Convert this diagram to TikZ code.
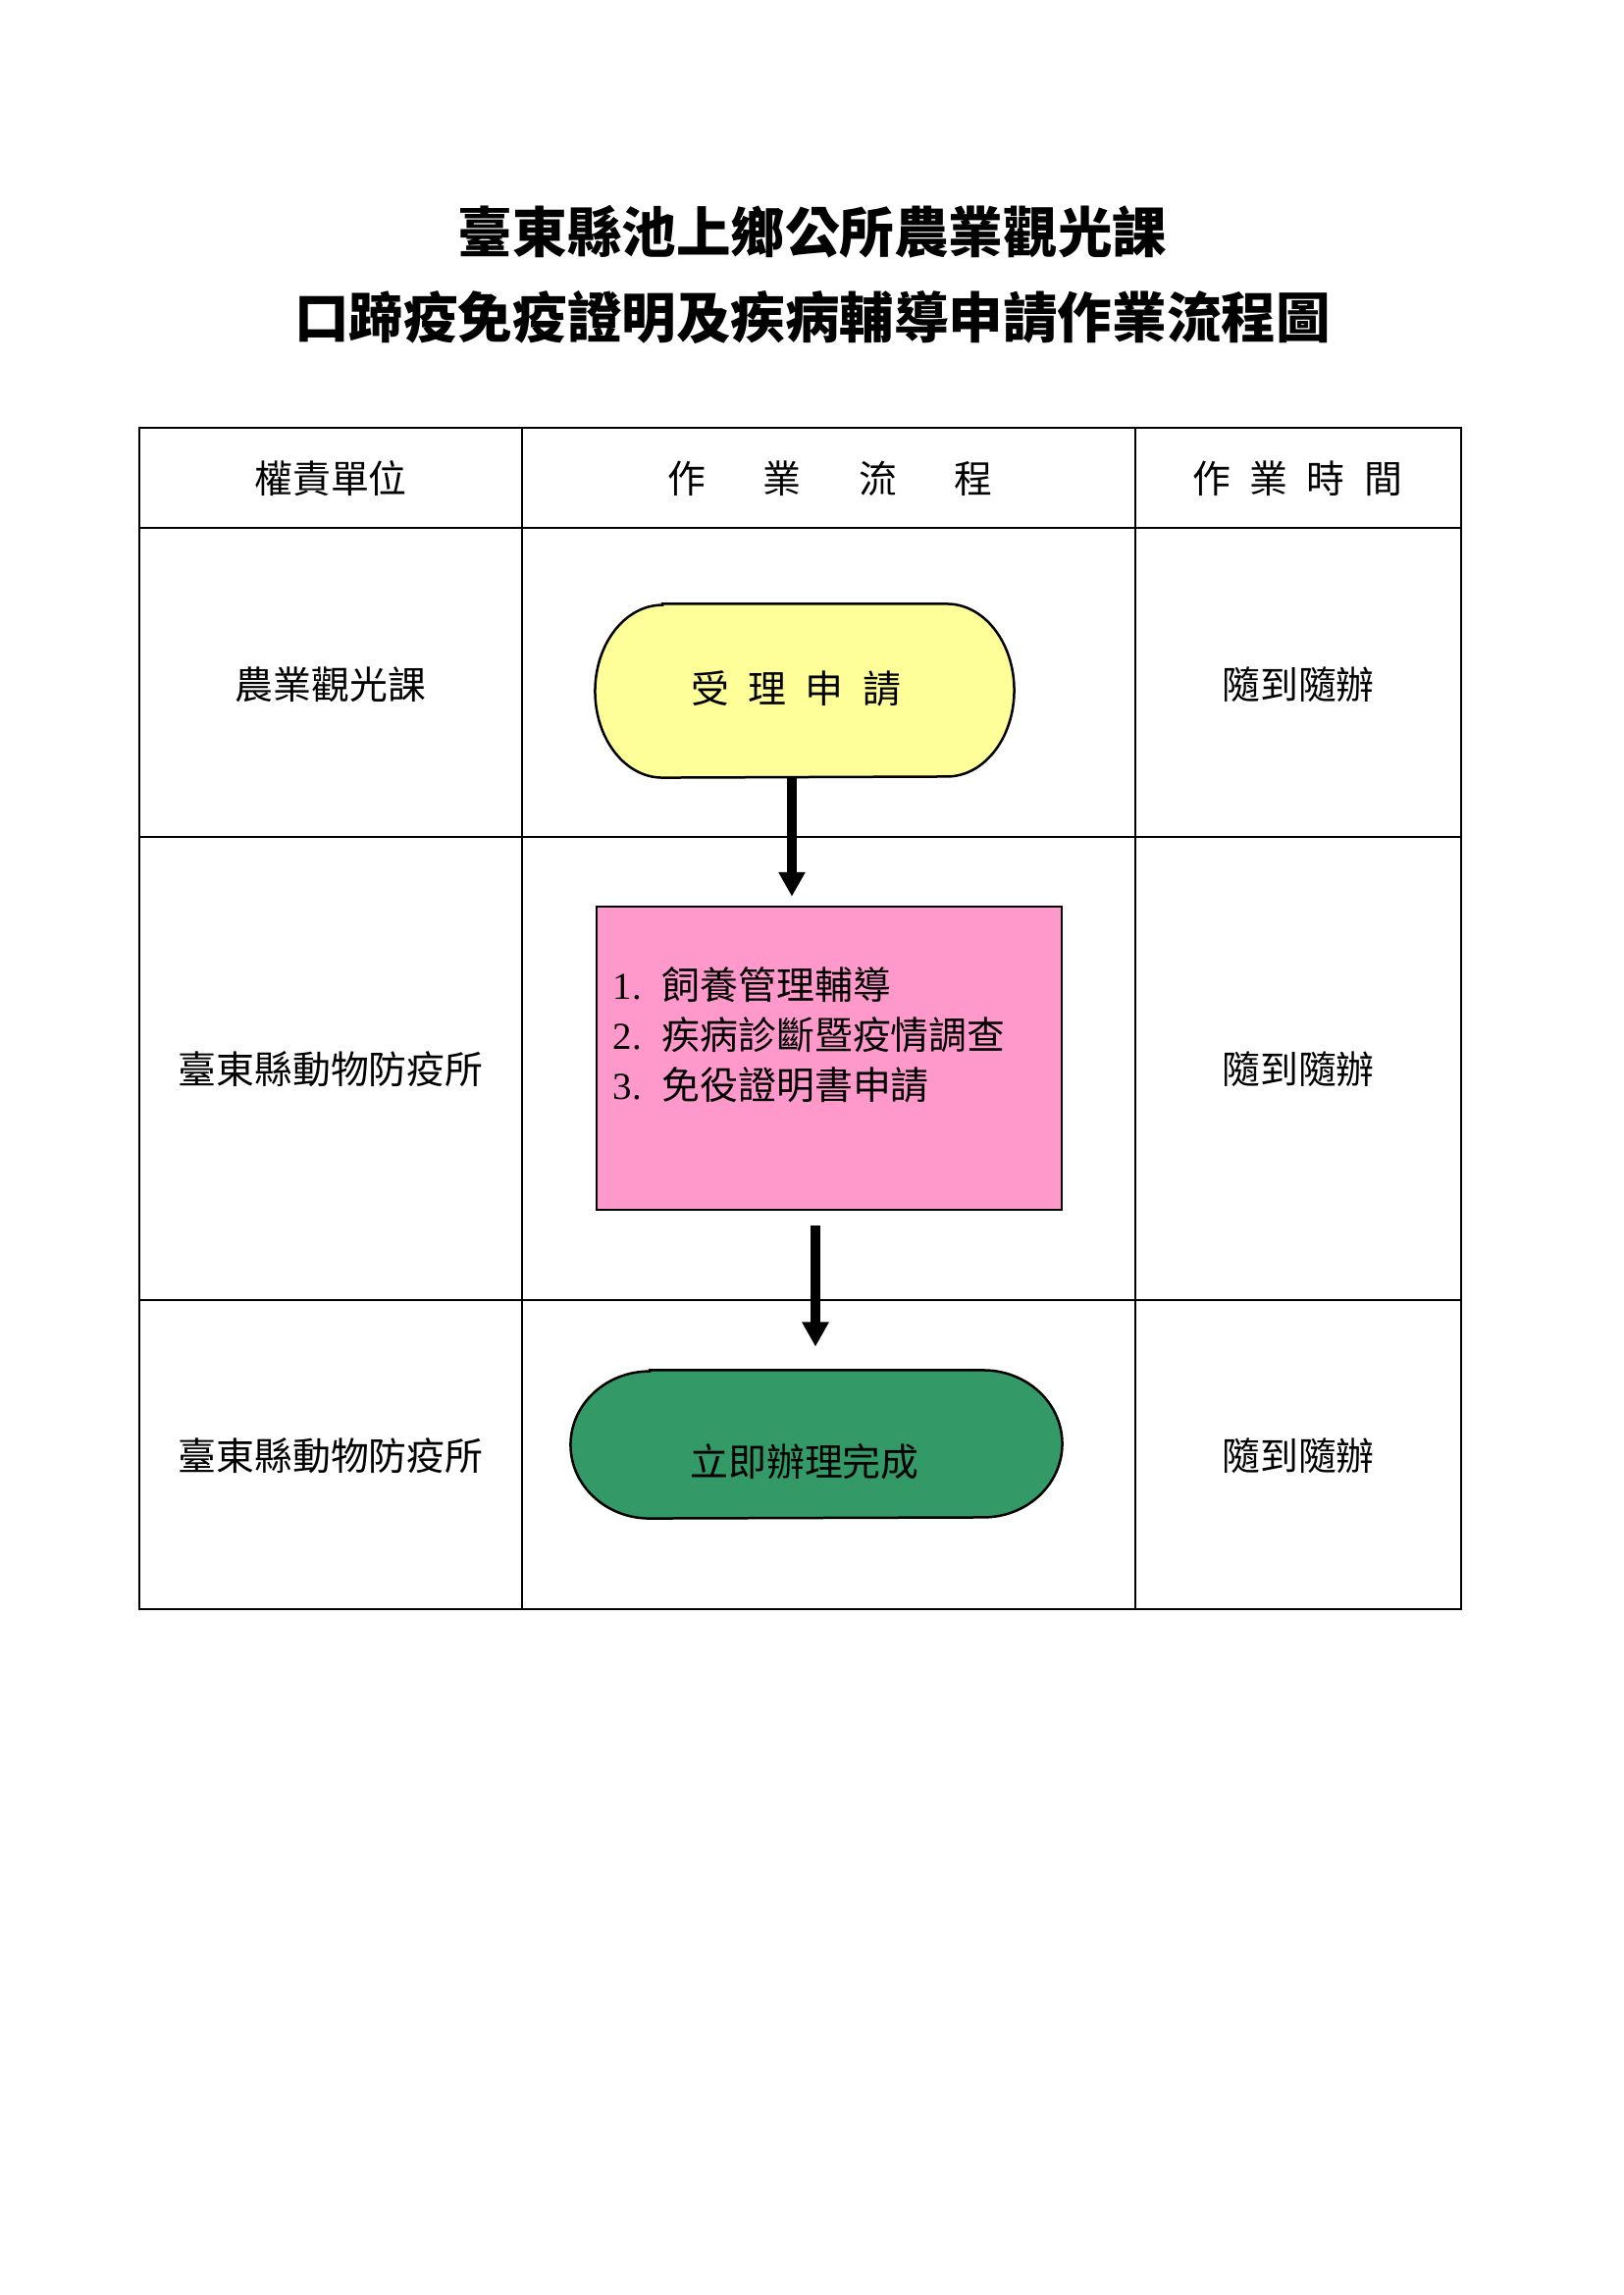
\documentclass[tikz,border=0pt]{standalone}
\usepackage{fontspec}
\setmainfont{Liberation Serif}
\newfontfamily\cjk{Noto Sans CJK TC}
\usetikzlibrary{arrows.meta}
\definecolor{termyellow}{HTML}{FFFF99}
\definecolor{procpink}{HTML}{FF99CC}
\definecolor{endgreen}{HTML}{339966}
\begin{document}
\begin{tikzpicture}[x=0.36pt,y=-0.36pt,
  gridline/.style={line width=0.6pt},
  cell/.style={font=\cjk\fontsize{14pt}{17pt}\selectfont, inner sep=0pt},
  titletext/.style={font=\cjk\bfseries\fontsize{20pt}{24pt}\selectfont, inner sep=0pt},
  boxframe/.style={draw=black, line width=0.9pt},
  slot/.style={inner sep=0pt},
  flow/.style={line width=3.3pt, -{Triangle[width=9.3pt,length=9pt]}}]
\useasboundingbox (0,0) rectangle (1654,2339);

% titles
\node[titletext] (t1) at (828,236) {臺東縣池上鄉公所農業觀光課};
\node[titletext] (t2) at (828,324) {口蹄疫免疫證明及疾病輔導申請作業流程圖};

% table grid
\draw[gridline] (142,436) rectangle (1489,1640);
\draw[gridline] (532,436) -- (532,1640);
\draw[gridline] (1157,436) -- (1157,1640);
\draw[gridline] (142,538) -- (1489,538);
\draw[gridline] (142,853) -- (1489,853);
\draw[gridline] (142,1325) -- (1489,1325);

% header
\node[cell] (h1) at (337,488) {權責單位};
\node[cell] (h2) at (846,488) {作\hspace{1.5em}業\hspace{1.5em}流\hspace{1.5em}程};
\node[cell] (h3) at (1322,488) {作\hspace{0.5em}業\hspace{0.5em}時\hspace{0.5em}間};

% left column
\node[cell] (u1) at (337,698) {農業觀光課};
\node[cell] (u2) at (337,1090) {臺東縣動物防疫所};
\node[cell] (u3) at (337,1484) {臺東縣動物防疫所};

% right column
\node[cell] (r1) at (1323,698) {隨到隨辦};
\node[cell] (r2) at (1323,1090) {隨到隨辦};
\node[cell] (r3) at (1323,1484) {隨到隨辦};

% yellow terminator
\node[slot, minimum width=153.36pt, minimum height=63.36pt] (yellow) at (820,704) {};
\filldraw[fill=termyellow, boxframe]
  ([xshift=24.7pt]yellow.north west) -- ([xshift=-24.7pt]yellow.north east)
  arc[start angle=90, end angle=-90, x radius=24.7pt, y radius=31.68pt]
  -- ([xshift=24.7pt]yellow.south west)
  arc[start angle=270, end angle=90, x radius=24.7pt, y radius=31.68pt] -- cycle;
\node[cell] (ytext) at (811,702) {受\hspace{0.5em}理\hspace{0.5em}申\hspace{0.5em}請};

% pink process box
\node[slot, boxframe, fill=procpink, minimum width=170.64pt, minimum height=111.24pt] (pink) at (845,1078.5) {};
\node[cell, anchor=west, align=left, font=\cjk\fontsize{14pt}{18.4pt}\selectfont] (items) at (624,1055)
  {\makebox[18pt][l]{\rmfamily 1.}飼養管理輔導\\
   \makebox[18pt][l]{\rmfamily 2.}疾病診斷暨疫情調查\\
   \makebox[18pt][l]{\rmfamily 3.}免役證明書申請};

% green terminator
\node[slot, minimum width=180pt, minimum height=54pt] (green) at (832,1472) {};
\filldraw[fill=endgreen, boxframe]
  ([xshift=29pt]green.north west) -- ([xshift=-29pt]green.north east)
  arc[start angle=90, end angle=-90, x radius=29pt, y radius=27pt]
  -- ([xshift=29pt]green.south west)
  arc[start angle=270, end angle=90, x radius=29pt, y radius=27pt] -- cycle;
\node[cell] (gtext) at (820,1490) {立即辦理完成};

% connectors
\coordinate (ax1) at (807,0);
\coordinate (ax2) at (831,0);
\draw[flow, shorten >=3.24pt] (yellow.south -| ax1) -- (pink.north -| ax1);
\draw[flow, shorten <=5.4pt, shorten >=8.64pt] (pink.south -| ax2) -- (green.north -| ax2);
\end{tikzpicture}
\end{document}
